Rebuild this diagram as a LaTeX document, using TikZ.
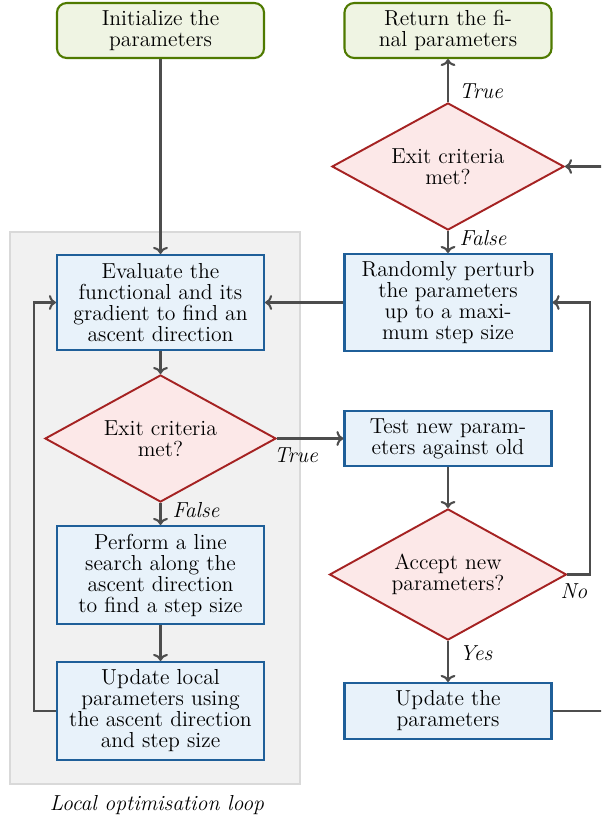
\documentclass[tikz,border=0pt]{standalone}
\usetikzlibrary{shapes.geometric,arrows.meta}
\definecolor{gfill}{HTML}{EFF4E3}
\definecolor{gdraw}{HTML}{4F7A00}
\definecolor{bfill}{HTML}{E8F2FA}
\definecolor{bdraw}{HTML}{1F5F99}
\definecolor{rfill}{HTML}{FCE8E8}
\definecolor{rdraw}{HTML}{A52222}
\definecolor{bgfill}{HTML}{F1F1F1}
\definecolor{bgdraw}{HTML}{D9D9D9}
\definecolor{lcol}{HTML}{4D4D4D}
\tikzset{
  every node/.style={font=\fontsize{12.4}{12}\selectfont},
  termbox/.style={draw=gdraw,fill=gfill,line width=1.2pt,rounded corners=5.5pt,align=center,
    minimum width=118.3pt,minimum height=31.4pt,inner sep=1pt},
  procbox/.style={draw=bdraw,fill=bfill,line width=1.2pt,align=center,
    minimum width=118.3pt,inner sep=1pt},
  decbox/.style={diamond,aspect=1.82,draw=rdraw,fill=rfill,line width=1.1pt,align=center,inner sep=0pt},
  conn/.style={draw=lcol,line width=1.2pt,-{To[length=4pt,width=8.5pt]}},
  lbl/.style={font=\fontsize{12.4}{12}\selectfont\itshape,inner sep=0pt}
}
\begin{document}
\begin{tikzpicture}[x=0.5714pt,y=-0.5714pt]
\useasboundingbox (0,0) rectangle (601,819);
\fill[white] (0,0) rectangle (601,819);
\draw[bgdraw,fill=bgfill,line width=1.2pt] (10,232) rectangle (300,784);
\node[lbl] (looplbl) at (157,805) {Local optimisation loop};

\node[termbox] (init) at (160.5,30.5) {Initialize the\\parameters};
\node[termbox] (ret) at (448,30.5) {Return the fi-\\nal parameters};
\node[decbox,minimum width=132.6pt,minimum height=72.6pt] (exit2) at (448,166.5) {Exit criteria\\met?};
\node[procbox,minimum height=54.3pt] (eval) at (160.5,302.5) {Evaluate the\\functional and its\\gradient to find an\\ascent direction};
\node[procbox,minimum height=55.4pt] (pert) at (448,302.5) {Randomly perturb\\the parameters\\up to a maxi-\\mum step size};
\node[decbox,minimum width=132pt,minimum height=72.6pt] (exit1) at (160.5,438.5) {Exit criteria\\met?};
\node[procbox,minimum height=31.4pt] (test) at (448,438.5) {Test new param-\\eters against old};
\node[decbox,minimum width=135.4pt,minimum height=74.9pt] (acc) at (448,574.5) {Accept new\\parameters?};
\node[procbox,minimum height=56pt] (lsearch) at (160.5,575) {Perform a line\\search along the\\ascent direction\\to find a step size};
\node[procbox,minimum height=56pt] (updl) at (160.5,711) {Update local\\parameters using\\the ascent direction\\and step size};
\node[procbox,minimum height=32pt] (upd) at (448,711) {Update the\\parameters};

\coordinate (c1) at (34,711);
\coordinate (c2) at (34,302.5);
\coordinate (c3) at (590,574.5);
\coordinate (c4) at (590,302.5);
\coordinate (c5) at (640,711);
\coordinate (c6) at (640,166.5);

\draw[conn] (init) -- (eval);
\draw[conn] (eval) -- (exit1);
\draw[conn] (exit1) -- (lsearch);
\draw[conn] (lsearch) -- (updl);
\draw[conn] (updl.west) -- (c1) -- (c2) -- (eval.west);
\draw[conn] (exit1.east) -- (test.west);
\draw[conn] (test) -- (acc);
\draw[conn] (acc) -- (upd);
\draw[conn] (acc.east) -- (c3) -- (c4) -- (pert.east);
\draw[conn] (pert.west) -- (eval.east);
\draw[conn] (exit2) -- (ret);
\draw[conn] (exit2) -- (pert);
\begin{scope}
\clip (0,0) rectangle (601,819);
\draw[conn] (upd.east) -- (c5) -- (c6) -- (exit2.east);
\end{scope}

\node[lbl] (t1) at (481,91) {True};
\node[lbl] (f1) at (483,238) {False};
\node[lbl] (f2) at (196,510) {False};
\node[lbl] (t2) at (296,455) {True};
\node[lbl] (y1) at (476,653) {Yes};
\node[lbl] (n1) at (574,591) {No};
\end{tikzpicture}
\end{document}
